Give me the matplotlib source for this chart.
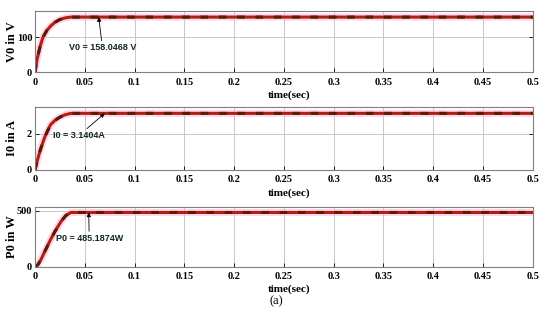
import numpy as np
import matplotlib
matplotlib.use('Agg')
import matplotlib.pyplot as plt

t_v = [0, 0.002, 0.005, 0.008, 0.012, 0.016, 0.02, 0.025, 0.03, 0.036, 0.5]
v0 = [0, 35, 72, 100, 120, 133, 143, 151, 155.5, 158.05, 158.05]

t_i = [0, 0.002, 0.005, 0.01, 0.0155, 0.02, 0.025, 0.03, 0.036, 0.5]
i0 = [0, 0.45, 1.05, 1.85, 2.5, 2.75, 2.93, 3.06, 3.14, 3.14]

t_p = [0, 0.003, 0.006, 0.01, 0.0155, 0.02, 0.026, 0.031, 0.036, 0.5]
p0 = [0, 20, 65, 140, 241, 315, 403, 458, 485.2, 485.2]

xticks = [0, 0.05, 0.1, 0.15, 0.2, 0.25, 0.3, 0.35, 0.4, 0.45, 0.5]
xticklabels = ['0', '0.05', '0.1', '0.15', '0.2', '0.25', '0.3', '0.35', '0.4', '0.45', '0.5']

panels = [
    dict(t=t_v, y=v0, ylim=175, yticks=[0, 100], ylabel='V0 in V',
         text='V0 = 158.0468 V', txy=(0.034, 62), arrow=(0.064, 158)),
    dict(t=t_i, y=i0, ylim=3.5, yticks=[0, 2], ylabel='I0 in A',
         text='I0 = 3.1404A', txy=(0.0176, 1.75), arrow=(0.07, 3.14)),
    dict(t=t_p, y=p0, ylim=535, yticks=[0, 500], ylabel='P0 in W',
         text='P0 = 485.1874W', txy=(0.0207, 230), arrow=(0.054, 485)),
]

rects = [
    [0.0636, 0.775, 0.905, 0.19],
    [0.0636, 0.469, 0.905, 0.197],
    [0.0636, 0.166, 0.905, 0.1875],
]

serif = ['Liberation Serif', 'DejaVu Serif']
sans = ['Liberation Sans', 'DejaVu Sans']

fig = plt.figure(figsize=(5.5, 3.2), dpi=100)

for rect, p in zip(rects, panels):
    ax = fig.add_axes(rect)
    ax.plot(p['t'], p['y'], color='#ffb3d9', lw=5, alpha=0.55, solid_capstyle='butt')
    ax.plot(p['t'], p['y'], color='#b0200e', lw=2.2)
    ax.plot(p['t'], p['y'], color='#5a1a08', lw=2.2, dashes=(2.5, 3.5))
    ax.set_xlim(0, 0.5)
    ax.set_ylim(0, p['ylim'])
    ax.set_xticks(xticks)
    ax.set_xticklabels(xticklabels)
    ax.set_yticks(p['yticks'])
    ax.grid(True, color='#c8c8c8', lw=0.7)
    ax.set_axisbelow(True)
    ax.tick_params(direction='in', length=3, labelsize=7.5, pad=4,
                   top=False, right=True, width=0.6)
    ax.tick_params(axis='y', pad=2)
    for lab in ax.get_xticklabels() + ax.get_yticklabels():
        lab.set_family(serif)
        lab.set_fontweight('bold')
    for s in ax.spines.values():
        s.set_color('#808080')
        s.set_linewidth(0.8)
    ax.set_xlabel('time(sec)', family=serif, fontweight='bold', fontsize=8)
    ax.xaxis.set_label_coords(0.51, -0.3)
    ax.set_ylabel(p['ylabel'], family=serif, fontweight='bold', fontsize=9)
    ax.yaxis.set_label_coords(-0.034, 0.5)
    ax.annotate(p['text'], xy=p['arrow'], xytext=p['txy'],
                fontsize=6.5, fontweight='bold', family=sans, color='#102818',
                arrowprops=dict(arrowstyle='-|>', color='black', lw=0.6,
                                mutation_scale=6, shrinkA=0, shrinkB=0))

fig.text(0.503, 0.05, '(a)', family=serif, fontsize=9, ha='center')

fig.savefig('out.png', dpi=100)
